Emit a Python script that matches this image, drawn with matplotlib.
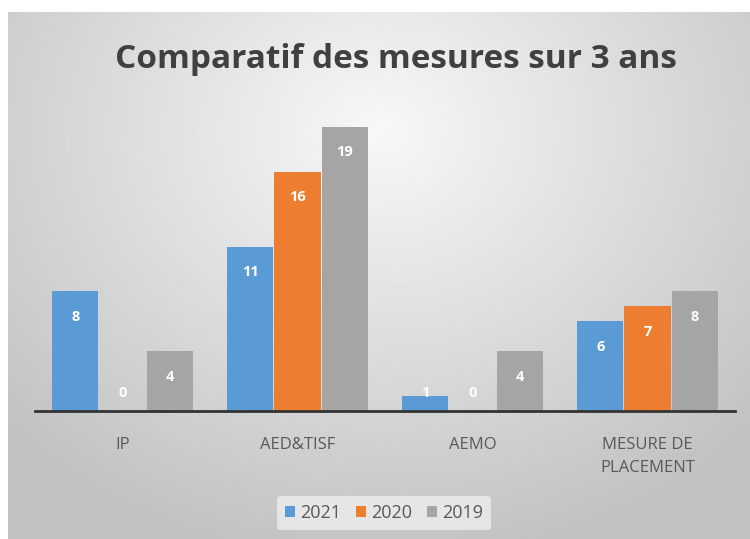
import numpy as np
import matplotlib
matplotlib.use("Agg")
import matplotlib.pyplot as plt

# data
categories = ["IP", "AED&TISF", "AEMO", "MESURE DE\nPLACEMENT"]
years = ["2021", "2020", "2019"]
v2021 = [8, 11, 1, 6]
v2020 = [0, 16, 0, 7]
v2019 = [4, 19, 4, 8]
colors = ["#5B9BD5", "#ED7D31", "#A5A5A5"]

plt.rcParams['font.family'] = ['Open Sans', 'DejaVu Sans']

fig = plt.figure(figsize=(7.5, 5.39), dpi=100)
fig.patch.set_facecolor("white")

# gradient background of the chart area
bg = fig.add_axes([8/750, 0, 742/750, 1 - 12/539], zorder=0)
yy, xx = np.mgrid[-1:1:200j, -1:1:300j]
r = np.sqrt((xx * 0.9) ** 2 + ((yy + 0.55) * 0.75) ** 2)
shade = np.clip(0.97 - 0.17 * r, 0.76, 0.97)
bg.imshow(shade, cmap="gray", vmin=0, vmax=1, aspect="auto",
          extent=[0, 1, 0, 1], origin="upper")
bg.set_axis_off()

ax = fig.add_axes([35/750, 1 - 411/539, 700/750, 299/539], zorder=1)
ax.patch.set_alpha(0)

x = np.arange(len(categories))
w = 0.27
series = [v2021, v2020, v2019]
for i, (vals, c, lab) in enumerate(zip(series, colors, years)):
    pos = x + (i - 1) * w
    ax.bar(pos, vals, width=w * 0.98, color=c, label=lab, zorder=2)
    for p, v in zip(pos, vals):
        ax.text(p, max(v - 1.7, 1.2), str(v), ha="center", va="center",
                color="white", fontsize=10.5, fontweight="bold", zorder=3)

ax.set_xlim(-0.5, len(categories) - 0.5)
ax.set_ylim(0, 20)
ax.set_yticks([])
ax.set_xticks(x)
ax.set_xticklabels(categories, color="#595959", fontsize=12, linespacing=1.55)
ax.tick_params(axis="x", length=0, pad=19)
for s in ["top", "right", "left"]:
    ax.spines[s].set_visible(False)
ax.spines["bottom"].set_color("#333333")
ax.spines["bottom"].set_linewidth(2)

fig.text(396/750, 1 - 60/539, "Comparatif des mesures sur 3 ans", ha="center",
         va="center", fontsize=24, fontweight="bold", color="#404040")

leg = fig.legend(loc="center", bbox_to_anchor=(384/750, 1 - 513/539), ncol=3,
                 frameon=True, fontsize=13, handlelength=0.55, handleheight=0.55,
                 handletextpad=0.3, columnspacing=0.8, borderpad=0.45)
leg.get_frame().set_facecolor("#eeeeee")
leg.get_frame().set_edgecolor("none")
leg.get_frame().set_alpha(0.8)
for t in leg.get_texts():
    t.set_color("#595959")

fig.savefig("out.png", dpi=100)
